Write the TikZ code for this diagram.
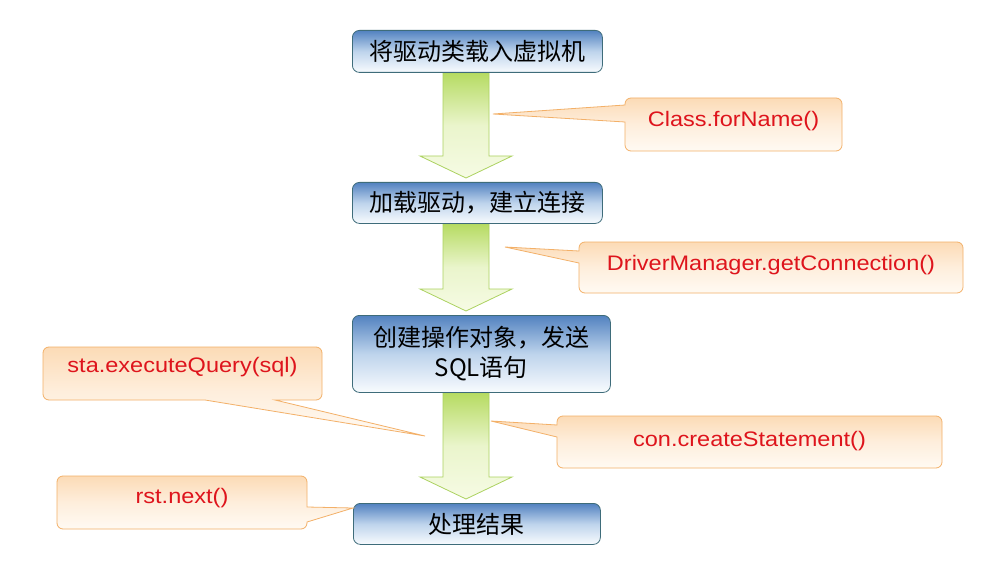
\documentclass[tikz,border=0pt]{standalone}
\usepackage{fontspec}
\newfontfamily\cjkfont{Noto Sans CJK SC}
\newfontfamily\calfont[FakeStretch=1.12]{Liberation Sans}
\definecolor{boxtop}{RGB}{82,130,192}
\definecolor{boxmid}{RGB}{190,212,236}
\definecolor{boxbot}{RGB}{248,251,254}
\definecolor{boxline}{RGB}{62,108,122}
\definecolor{arrtop}{RGB}{182,219,98}
\definecolor{arrmid}{RGB}{234,245,204}
\definecolor{arrbot}{RGB}{246,251,228}
\definecolor{arrline}{RGB}{172,210,96}
\definecolor{caltop}{RGB}{252,219,182}
\definecolor{calmid}{RGB}{254,238,220}
\definecolor{calbot}{RGB}{255,250,243}
\definecolor{calline}{RGB}{243,176,104}
\definecolor{caltext}{RGB}{222,20,28}
\pgfdeclarelayer{background}
\pgfsetlayers{background,main}
\newcommand\jdbcarrow[2]{%
  \path (ax |- #1.south) coordinate (at) (ax |- #2.north) coordinate (ae);
  \draw[fatarrow] ([xshift=-23pt]at) -- ([xshift=23pt]at)
    -- ([xshift=23pt,yshift=26pt]ae) -- ([xshift=46pt,yshift=26pt]ae)
    -- ([yshift=4pt]ae) -- ([xshift=-46pt,yshift=26pt]ae)
    -- ([xshift=-23pt,yshift=26pt]ae) -- cycle;}
\begin{document}
\begin{tikzpicture}[x=1pt,y=-1pt,
  stepbox/.style={draw=boxline, line width=0.8pt, rounded corners=7pt,
    top color=boxtop, bottom color=boxbot, middle color=boxmid,
    inner sep=0pt, anchor=north west, align=center,
    font=\cjkfont\fontsize{24}{30}\selectfont},
  fatarrow/.style={draw=arrline, line width=0.8pt, line join=miter,
    top color=arrtop, bottom color=arrbot, middle color=arrmid},
  callout/.style={draw=calline, line width=0.8pt, line join=miter,
    top color=caltop, bottom color=calbot, middle color=calmid},
  caltxt/.style={text=caltext, font=\calfont\fontsize{21}{25}\selectfont, inner sep=0pt}]
\begin{pgfonlayer}{background}
\fill[white] (0,0) rectangle (995,580);
\end{pgfonlayer}
\useasboundingbox (0,0) rectangle (995,580);
\coordinate (ax) at (466,0);

% boxes
\node[stepbox, minimum width=250pt, minimum height=42pt] (b1) at (352,30) {将驱动类载入虚拟机};
\node[stepbox, minimum width=250pt, minimum height=41pt] (b2) at (352,182) {加载驱动，建立连接};
\node[stepbox, minimum width=258pt, minimum height=77pt] (b3) at (352,315) {创建操作对象，发送\\SQL语句};
\node[stepbox, minimum width=247pt, minimum height=41pt] (b4) at (353,503) {处理结果};

% block arrows (behind boxes)
\begin{pgfonlayer}{background}
\jdbcarrow{b1}{b2}
\jdbcarrow{b2}{b3}
\jdbcarrow{b3}{b4}
\end{pgfonlayer}

% callouts
\path[callout] (493,114) -- (625,105) [rounded corners=6pt] -- (625,98) -- (842,98)
  -- (842,151) -- (625,151) [sharp corners] -- (625,122) -- cycle;
\node[caltxt] (c1) at (733.5,121) {Class.forName()};

\path[callout] (505,247) -- (579,251) [rounded corners=6pt] -- (579,242) -- (963,242)
  -- (963,293) -- (579,293) [sharp corners] -- (579,263) -- cycle;
\node[caltxt] (c2) at (771,265.5) {DriverManager.getConnection()};

\path[callout] (425,436) -- (275,400) [rounded corners=6pt] -- (322,400) -- (322,347)
  -- (43,347) -- (43,400) [sharp corners] -- (205,400) -- cycle;
\node[caltxt] (c3) at (182.5,367) {sta.executeQuery(sql)};

\path[callout] (491,421) -- (557,425) [rounded corners=6pt] -- (557,416) -- (942,416)
  -- (942,468) -- (557,468) [sharp corners] -- (557,437) -- cycle;
\node[caltxt] (c4) at (749.5,441) {con.createStatement()};

\path[callout] (353,508) -- (307,522) [rounded corners=6pt] -- (307,529) -- (57,529)
  -- (57,476) -- (307,476) [sharp corners] -- (307,507) -- cycle;
\node[caltxt] (c5) at (182,498) {rst.next()};
\end{tikzpicture}
\end{document}
